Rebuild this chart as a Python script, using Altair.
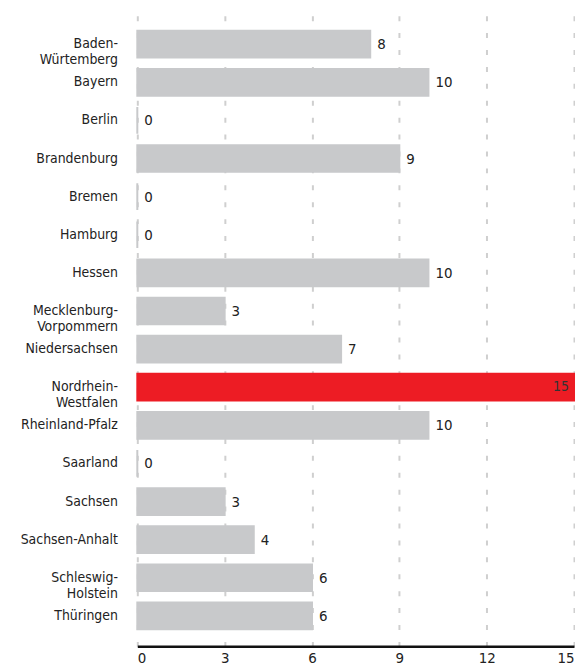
import altair as alt
import pandas as pd

states = [
    "Baden-\nWürtemberg", "Bayern", "Berlin", "Brandenburg", "Bremen", "Hamburg",
    "Hessen", "Mecklenburg-\nVorpommern", "Niedersachsen", "Nordrhein-\nWestfalen",
    "Rheinland-Pfalz", "Saarland", "Sachsen", "Sachsen-Anhalt",
    "Schleswig-\nHolstein", "Thüringen",
]
values = [8, 10, 0, 9, 0, 0, 10, 3, 7, 15, 10, 0, 3, 4, 6, 6]
highlight = ["Nordrhein-\nWestfalen"]
ticks = [0, 3, 6, 9, 12, 15]

df = pd.DataFrame({"state": states, "value": values})
df["hl"] = df["state"].isin(highlight)

FONT = "DejaVu Sans Condensed"
GRAY = "#c8c9cb"
RED = "#ed1c24"

y = alt.Y("state:N", sort=states, title=None,
          scale=alt.Scale(paddingInner=0.3, paddingOuter=0.45),
          axis=alt.Axis(labelExpr="split(datum.value, '\\n')", ticks=False, domain=False,
                        labelPadding=20, labelFont=FONT, labelFontSize=14,
                        labelColor="#222222", labelLineHeight=16, labelFontWeight=500,
                        minExtent=125, maxExtent=125))
x = alt.X("value:Q", title=None,
          scale=alt.Scale(domain=[0, 15], nice=False),
          axis=alt.Axis(values=ticks, grid=True, gridDash=[5, 12], gridColor="#cfcfcf",
                        gridWidth=2, ticks=False, domainColor="#111111", domainWidth=2.5,
                        labelFont=FONT, labelFontSize=15, labelColor="#222222",
                        labelPadding=4))

color = alt.condition("datum.hl", alt.value(RED), alt.value(GRAY))

bars = alt.Chart(df).mark_bar(strokeWidth=2).encode(
    x=x, y=y, fill=color, stroke=color
)

labels = alt.Chart(df).transform_filter("!datum.hl").mark_text(
    align="left", dx=7, font=FONT, fontSize=15, color="#222222"
).encode(x="value:Q", y=alt.Y("state:N", sort=states), text="value:Q")

inner = alt.Chart(df).transform_filter("datum.hl").mark_text(
    align="right", dx=-5, font=FONT, fontSize=14, color="#333333"
).encode(x="value:Q", y=alt.Y("state:N", sort=states), text="value:Q")

chart = alt.layer(bars, labels, inner).properties(
    width=439, height=636,
    padding={"left": 5, "top": 4, "right": 0, "bottom": 0},
).configure_view(stroke=None)

chart.save("out.html", embed_options={"renderer": "svg", "actions": False})
